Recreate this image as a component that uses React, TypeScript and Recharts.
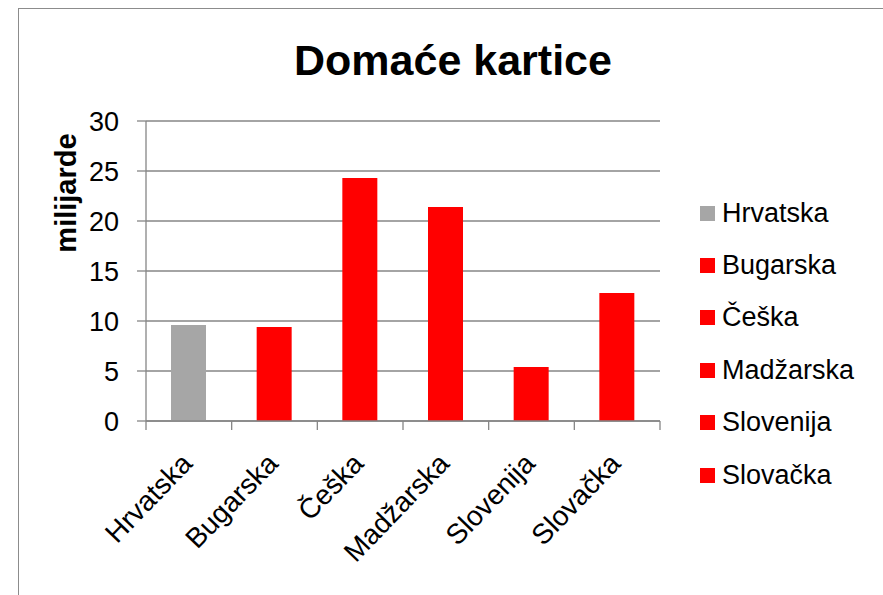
import { BarChart, Bar, Cell, XAxis, YAxis, CartesianGrid, Label } from "recharts";

const countries = ["Hrvatska", "Bugarska", "Češka", "Madžarska", "Slovenija", "Slovačka"];
const cardValues = [9.6, 9.4, 24.3, 21.4, 5.4, 12.8];
const yTicks = [0, 5, 10, 15, 20, 25, 30];
const highlighted = "Hrvatska";

const data = countries.map((name, i) => ({ name, value: cardValues[i] }));

const FONT = '"Liberation Sans", Arial, sans-serif';
const GRID = "#868686";
const GREY = "#A6A6A6";
const RED = "#FF0000";
const colorOf = (name: string) => (name === highlighted ? GREY : RED);

// category label rotated -45°, plus tick marks on the category edges
function CategoryTick(props: any) {
  const { x, y, payload, index } = props;
  const half = payload && payload.offset ? payload.offset : 0;
  const tx = x + 5;
  const ty = y + 44;
  return (
    <g>
      <line x1={x - half} y1={y} x2={x - half} y2={y + 9} stroke={GRID} strokeWidth={1.3} />
      {index === countries.length - 1 && (
        <line x1={x + half} y1={y} x2={x + half} y2={y + 9} stroke={GRID} strokeWidth={1.3} />
      )}
      <text
        x={tx}
        y={ty}
        textAnchor="end"
        transform={`rotate(-46, ${tx}, ${ty})`}
        fontSize={28}
        fontFamily={FONT}
        fill="#000"
      >
        {payload.value}
      </text>
    </g>
  );
}

function YTitle(props: any) {
  const vb = props.viewBox || { x: 86, y: 121 };
  const tx = vb.x - 10;
  const ty = vb.y + 72;
  return (
    <text
      x={tx}
      y={ty}
      textAnchor="middle"
      transform={`rotate(-90, ${tx}, ${ty})`}
      fontSize={29}
      fontWeight="bold"
      fontFamily={FONT}
      fill="#000"
    >
      milijarde
    </text>
  );
}

export default function App() {
  return (
    <div
      style={{
        position: "absolute",
        left: 0,
        top: 0,
        width: 883,
        height: 595,
        overflow: "hidden",
        background: "#fff",
        fontFamily: FONT,
      }}
    >
      <div
        style={{
          position: "absolute",
          left: 18,
          top: 8,
          right: -4,
          bottom: -4,
          border: "1px solid #8c8c8c",
        }}
      />
      <div
        style={{
          position: "absolute",
          left: 0,
          width: 906,
          top: 39,
          textAlign: "center",
          fontSize: 43,
          lineHeight: "43px",
          fontWeight: "bold",
        }}
      >
        Domaće kartice
      </div>

      <div style={{ position: "absolute", left: 0, top: 0 }}>
        <BarChart
          width={883}
          height={595}
          data={data}
          margin={{ top: 121, right: 223, bottom: 144, left: 86 }}
        >
          <CartesianGrid vertical={false} stroke={GRID} strokeWidth={1.3} />
          <XAxis
            dataKey="name"
            interval={0}
            height={30}
            tickSize={0}
            tickMargin={0}
            tickLine={false}
            axisLine={{ stroke: GRID, strokeWidth: 1.3 }}
            tick={<CategoryTick />}
          />
          <YAxis
            width={60}
            domain={[0, 30]}
            ticks={yTicks}
            interval={0}
            tickSize={9}
            tickMargin={18}
            axisLine={{ stroke: GRID, strokeWidth: 1.3 }}
            tickLine={{ stroke: GRID, strokeWidth: 1.3 }}
            tick={{ fontSize: 27, fill: "#000", fontFamily: FONT }}
          >
            <Label content={<YTitle />} />
          </YAxis>
          <Bar dataKey="value" barSize={35} isAnimationActive={false}>
            {data.map((d) => (
              <Cell key={d.name} fill={colorOf(d.name)} />
            ))}
          </Bar>
        </BarChart>
      </div>

      <div style={{ position: "absolute", left: 700, top: 187 }}>
        {countries.map((name) => (
          <div
            key={name}
            style={{ display: "flex", alignItems: "center", height: 52.4 }}
          >
            <span
              style={{
                display: "inline-block",
                width: 15,
                height: 15,
                background: colorOf(name),
                marginRight: 7,
              }}
            />
            <span style={{ fontSize: 27, lineHeight: "27px", color: "#000" }}>{name}</span>
          </div>
        ))}
      </div>
    </div>
  );
}
